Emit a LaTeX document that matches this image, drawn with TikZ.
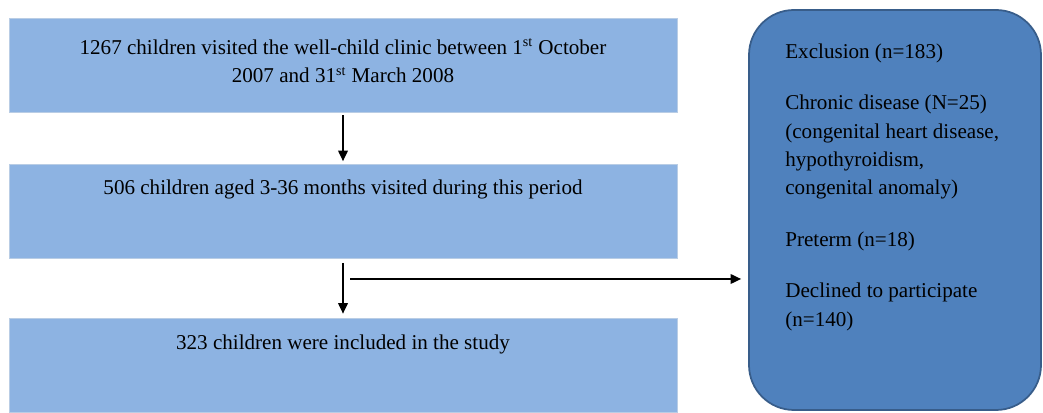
\documentclass[tikz,border=0pt]{standalone}
\usepackage{fontspec}
\setmainfont{Liberation Serif}
\usetikzlibrary{arrows.meta}

\definecolor{paleblue}{HTML}{8DB3E2}
\definecolor{paleedge}{HTML}{B9CDE5}
\definecolor{deepblue}{HTML}{4F81BD}
\definecolor{deepedge}{HTML}{385D8A}

\begin{document}
\begin{tikzpicture}[
		stagebox/.style={rectangle, fill=paleblue, draw=paleedge, line width=.4pt, minimum width=13.36cm, minimum height=1.88cm, inner sep=0pt},
		stagetext/.style={anchor=north, align=center, inner sep=0pt, font=\fontsize{12}{16}\selectfont},
		exclbox/.style={rectangle, rounded corners=.9cm, fill=deepblue, draw=deepedge, line width=1pt, minimum width=5.84cm, minimum height=8cm, inner sep=0pt},
		excltext/.style={anchor=north west, align=left, inner sep=0pt, font=\fontsize{12}{16}\selectfont},
		flow/.style={line width=.9pt, -{Triangle[length=6pt,width=5.5pt]}}
	]
		\useasboundingbox (0,0) rectangle (20.86,8.26);
		
		% left column
		\node[stagebox] (visited) at (6.86,6.96) {};
		\node[stagetext] (visitedtxt) at ([yshift=-.42cm]visited.north) {1267 children visited the well-child clinic between 1\textsuperscript{st} October\\2007 and 31\textsuperscript{st} March 2008};
		
		\node[stagebox] (aged) at (6.86,4.03) {};
		\node[stagetext] (agedtxt) at ([yshift=-.30cm]aged.north) {506 children aged 3-36 months visited during this period};
		
		\node[stagebox] (included) at (6.86,0.96) {};
		\node[stagetext] (includedtxt) at ([yshift=-.34cm]included.north) {323 children were included in the study};
		
		% exclusions
		\node[exclbox] (excl) at (17.90,4.06) {};
		\node[excltext] (excltxt) at (15.70,7.38) {Exclusion (n=183)\\[13pt]
			Chronic disease (N=25)\\
			(congenital heart disease,\\
			hypothyroidism,\\
			congenital anomaly)\\[13.5pt]
			Preterm (n=18)\\[13.5pt]
			Declined to participate\\
			(n=140)};
		
		% arrows
		\coordinate (split) at (7.00,2.68);
		\draw[flow, shorten <=.06cm, shorten >=.06cm] (visited) -- (aged);
		\draw[flow, shorten <=.08cm, shorten >=.08cm] (aged) -- (included);
		\draw[flow, shorten >=.14cm] (split) -- (excl.west |- split);
		
	\end{tikzpicture}
\end{document}
